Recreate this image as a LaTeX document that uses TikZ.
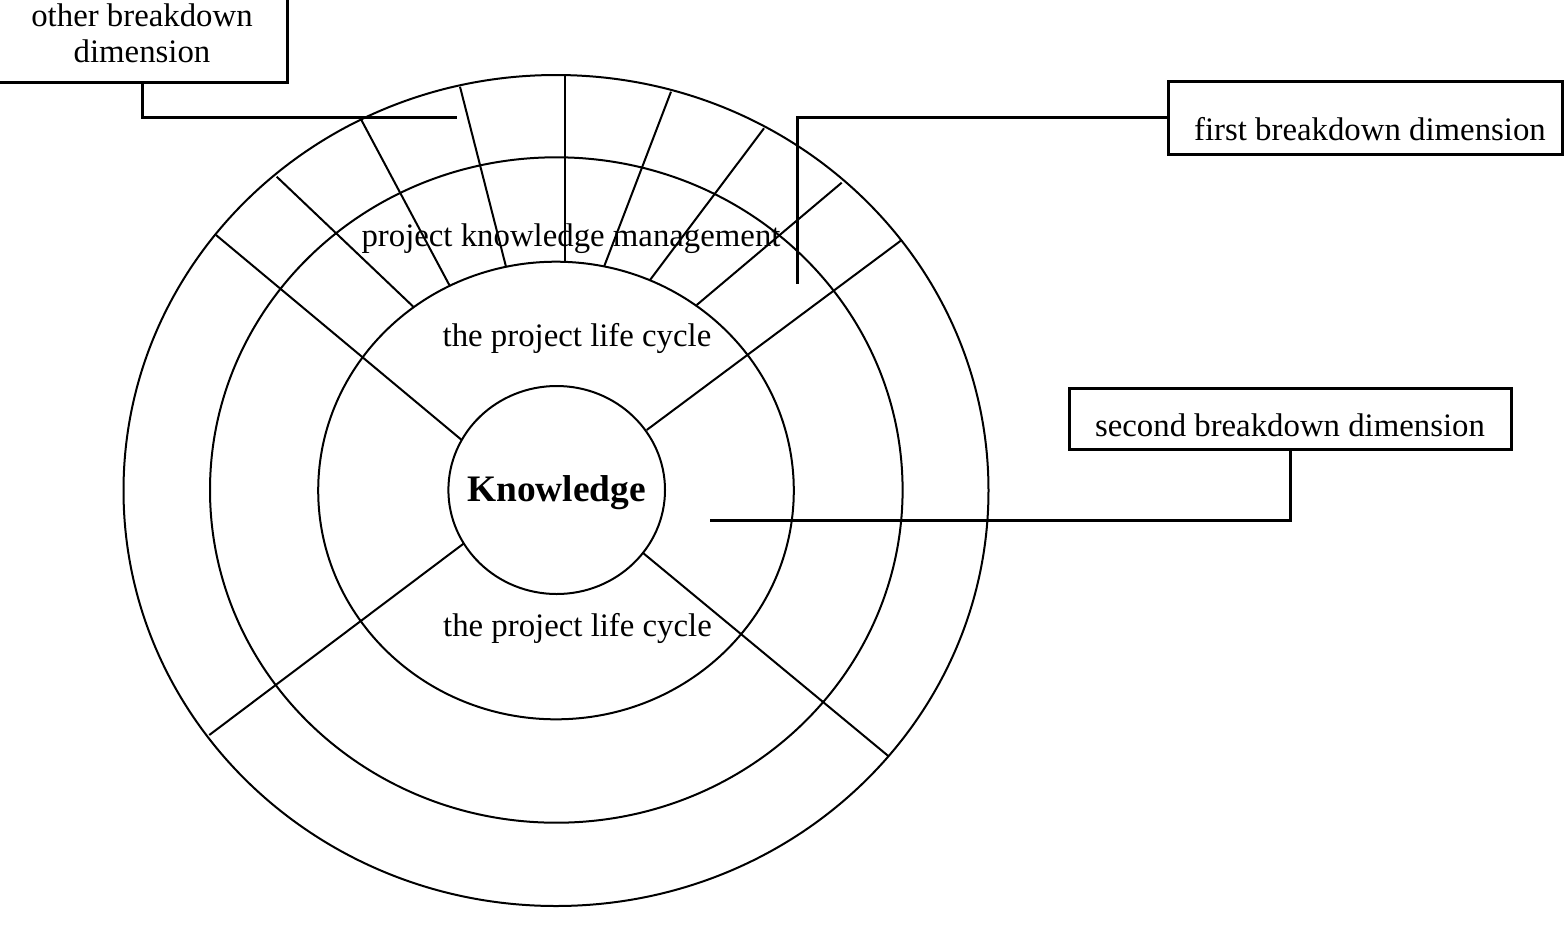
\documentclass[tikz,border=0pt]{standalone}
\usepackage{fontspec}
\setmainfont{Liberation Serif}
\begin{document}
\begin{tikzpicture}[x=0.5pt,y=-0.5pt,
  ring/.style={line width=1pt},
  lead/.style={line width=1.5pt},
  box/.style={draw,line width=1.5pt,inner sep=0pt},
  lbl/.style={font=\fontsize{16.4}{18.35}\selectfont,inner sep=0pt}]
\useasboundingbox (0,0) rectangle (1564,928);
\clip (0,0) rectangle (1564,928);

% rings
\draw[ring] (556.7,490) ellipse [x radius=108.3, y radius=104];
\draw[ring] (556,490.5) ellipse [x radius=237.8, y radius=228.8];
\draw[ring] (556.3,490) ellipse [x radius=346.3, y radius=332.7];
\draw[ring] (556,490.5) ellipse [x radius=432.5, y radius=415.5];

% main spokes (inner circle to outer circle)
\draw[ring] (216,235) -- (461.7,440);
\draw[ring] (901.7,240) -- (646.7,430);
\draw[ring] (209.3,735) -- (464,543.3);
\draw[ring] (888.3,756) -- (642.7,552.7);

% top sector spokes (second circle to outer circle)
\draw[ring] (276.7,176.7) -- (413.3,306.7);
\draw[ring] (361,119.3) -- (449.3,285);
\draw[ring] (460,86.7) -- (506,266.7);
\draw[ring] (565,75.5) -- (565,261.7);
\draw[ring] (671,91.7) -- (604.3,266);
\draw[ring] (764,128.3) -- (650,280);
\draw[ring] (841.7,182.7) -- (696.7,305);

% ring labels
\node[lbl,anchor=base] (pkm) at (571,246.7) {project knowledge management};
\node[lbl,anchor=base] (plc1) at (577,346.5) {the project life cycle};
\node[lbl,anchor=base] (plc2) at (577.5,636.7) {the project life cycle};
\node[lbl,anchor=base,font=\fontsize{18.7}{21}\selectfont\bfseries] (know) at (556.5,501.7) {Knowledge};

% boxes
\node[box,minimum width=145.15pt,minimum height=51.35pt] (other) at (142.15,31.35) {};
\node[lbl,align=center] (otherlbl) at (142,33.2) {other breakdown\\dimension};

\node[box,minimum width=197pt,minimum height=36.5pt] (first) at (1365.5,117.5) {};
\node[lbl,anchor=base] (firstlbl) at (1370,140.7) {first breakdown dimension};

\node[box,minimum width=221pt,minimum height=30.2pt] (second) at (1290,418.8) {};
\node[lbl,anchor=base] (secondlbl) at (1290,436) {second breakdown dimension};

% leader lines
\coordinate (oend) at (457,117);
\coordinate (fend) at (797,284);
\coordinate (send) at (710,520);
\draw[lead] (other.south) |- (oend);
\draw[lead] (first.west) -| (fend);
\draw[lead] (second.south) |- (send);
\end{tikzpicture}
\end{document}
